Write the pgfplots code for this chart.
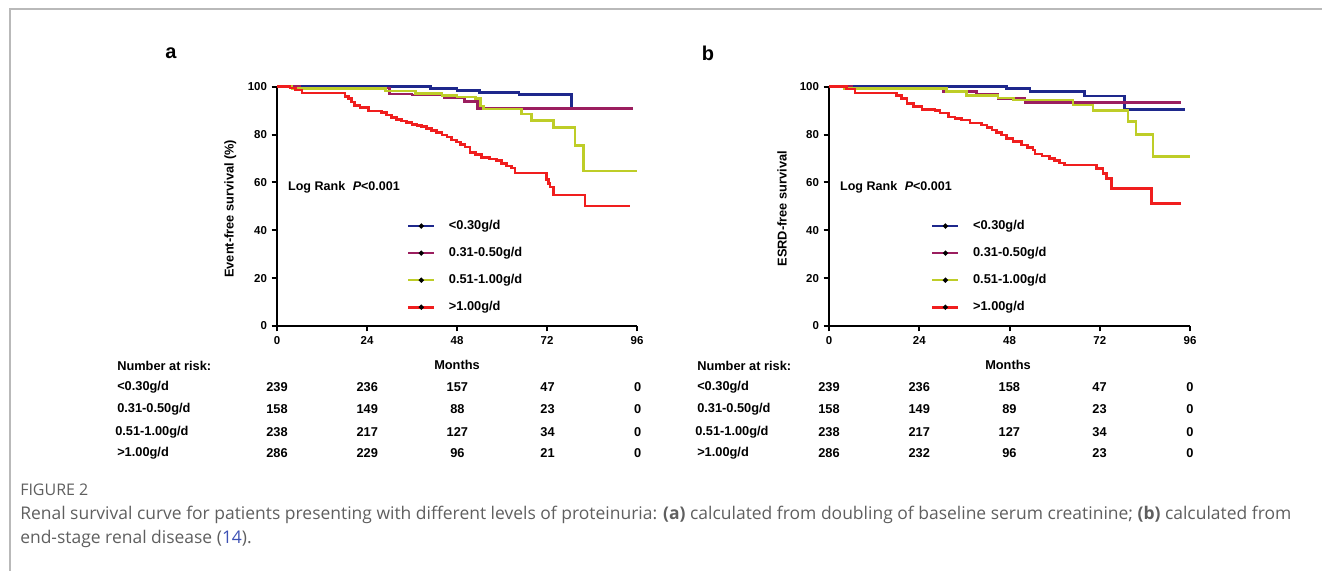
\documentclass[border=0pt]{standalone}
\usepackage{fontspec}
\setmainfont{Liberation Sans}
\newfontfamily\capfont{Open Sans}
\usepackage{pgfplots}
\pgfplotsset{compat=1.18}

\definecolor{kmblue}{RGB}{30,40,140}
\definecolor{kmpurple}{RGB}{155,30,95}
\definecolor{kmyellow}{RGB}{190,205,40}
\definecolor{kmred}{RGB}{240,30,30}
\definecolor{capgray}{RGB}{95,95,95}
\definecolor{reflink}{RGB}{60,80,180}

\pgfplotsset{
  km/.style={
    scale only axis, width=270pt, height=179.5pt,
    xmin=0, xmax=96, ymin=0, ymax=100,
    axis x line*=bottom, axis y line*=left,
    axis line style={-, line width=1.9pt},
    xtick={0,24,48,72,96}, ytick={0,20,...,100},
    tick align=outside, major tick length=4pt,
    tick style={line width=1.5pt, black},
    tick label style={font=\bfseries\fontsize{8.6}{10}\selectfont},
    /pgf/number format/assume math mode=true,
    ylabel style={at={(axis description cs:-0.13,0.49)}, anchor=center,
      font=\bfseries\fontsize{9.6}{11}\selectfont},
    clip=false,
    legend cell align=left,
    legend style={draw=none, fill=none, inner sep=0pt, row sep=9.3pt,
      font=\bfseries\fontsize{9.6}{11}\selectfont,
      nodes={inner sep=1pt, text height=7pt, text depth=2pt}},
    legend image code/.code={
      \path[draw=none, fill=none] (0pt,0pt) -- (29.5pt,0pt);
      \draw[#1] (0pt,0pt) -- (19.5pt,0pt);
      \fill[black] (9.75pt,0pt) circle (0.75pt);
    },
  },
  km line/.style={const plot, line width=1.9pt, #1},
}

% one row of the number-at-risk table: label x, first column x, y, label, five counts
\newcommand{\riskrow}[9]{%
  \node[anchor=west, inner sep=0pt] at (#1,#3) {#4};
  \foreach \v [count=\i from 0] in {#5,#6,#7,#8,#9} {\node at (#2+\i*90.2,#3) {\v};}
}

\begin{document}
\begin{tikzpicture}[x=0.75pt, y=0.75pt]
\path[use as bounding box] (0,0) rectangle (1322,571);
\draw[gray!55, line width=1pt] (10,0) -- (10,562) -- (1322,562);
\coordinate (pa) at (277,245);
\coordinate (pb) at (829,245);

% ---------- panel a ----------
\begin{axis}[km, at={(pa)}, anchor=south west,
  ylabel={Event-free survival (\%)},
  legend style={at={(axis cs:34.6,24.8)}, anchor=west}]
\addplot[km line=kmblue] coordinates {
  (0,100) (41,99.2) (48,98.4) (54,97.6) (64.5,96.8) (78.6,90.8) (95,90.8)};
\addplot[km line=kmpurple] coordinates {
  (0,100) (6,99.4) (30,97.0) (36,96.5) (44.5,95.2) (50,93.8) (53.5,90.8) (95,90.8)};
\addplot[km line=kmyellow] coordinates {
  (0,100) (4,99.2) (29,98.2) (37,97.2) (44,96.2) (48,95.6) (53,95.0) (54.2,92.0)
  (55,90.6) (65.2,88.6) (67.9,85.8) (73.7,83.0) (79.5,75.4) (81.7,64.8) (96,64.8)};
\addplot[km line=kmred] coordinates {
  (0,100) (3.5,99.4) (5,98.6) (6.7,97.3) (18.1,96.0) (19.0,95.0) (19.8,93.6)
  (20.6,92.2) (22.1,91.4) (24.4,89.8) (27.8,89.3) (29.2,88.2) (30.5,87.2)
  (31.9,86.3) (33.2,85.6) (34.6,85.0) (36.0,84.3) (37.3,83.7) (38.6,83.3)
  (39.9,82.5) (41.2,81.6) (42.6,80.8) (44.0,79.8) (45.3,78.9) (46.6,77.8)
  (47.9,76.9) (49.0,75.8) (50.1,74.7) (51.5,72.6) (53.0,71.6) (54.6,70.5)
  (56.6,69.8) (58.6,69.1) (59.9,67.8) (61.2,66.9) (62.6,66.0) (63.5,63.9)
  (71.9,61.2) (72.4,59.5) (72.8,58.0) (73.7,54.8) (82.1,50.1) (94.1,50.1)};
\legend{<0.30g/d, 0.31-0.50g/d, 0.51-1.00g/d, >1.00g/d}
\node[anchor=west, inner sep=0pt, font=\bfseries\fontsize{9.4}{11}\selectfont]
  at (axis cs:2.9,58) {Log Rank\hspace{0.6em}{\itshape P}<0.001};
\end{axis}

% ---------- panel b ----------
\begin{axis}[km, at={(pb)}, anchor=south west, width=270.75pt,
  ylabel={ESRD-free survival},
  legend style={at={(axis cs:27.1,24.8)}, anchor=west}]
\addplot[km line=kmblue] coordinates {
  (0,100) (47.2,99.2) (53.4,97.9) (68,96.1) (78.6,90.4) (94.6,90.4)};
\addplot[km line=kmpurple] coordinates {
  (0,100) (6,99.5) (30.3,98.0) (39.2,96.8) (45,95.1) (52.1,93.3) (93.7,93.3)};
\addplot[km line=kmyellow] coordinates {
  (0,100) (4,99.2) (31.2,97.9) (36.5,96.3) (45,95.2) (49,94.4) (64.9,92.3)
  (70.2,90.0) (79.5,85.4) (81.7,80.0) (86.2,70.8) (96,70.8)};
\addplot[km line=kmred] coordinates {
  (0,100) (4.6,99.0) (6.9,97.4) (18.0,96.2) (19.3,95.1) (20.7,93.0) (22.4,91.6)
  (24.7,90.4) (28.2,90.0) (29.5,88.9) (31.8,87.4) (33.5,86.6) (35.3,86.0)
  (37.5,84.9) (40.6,84.0) (42.0,83.0) (43.3,81.9) (44.6,80.8) (45.9,79.8)
  (47.2,78.4) (48.9,77.0) (51.2,75.6) (52.8,74.5) (54.3,73.5) (54.8,71.9)
  (56.7,71.0) (58.7,70.0) (60.0,69.1) (61.3,68.2) (62.6,67.2) (71.1,65.9)
  (72.9,63.8) (73.8,61.7) (75.1,57.5) (85.7,51.2) (93.7,51.2)};
\legend{<0.30g/d, 0.31-0.50g/d, 0.51-1.00g/d, >1.00g/d}
\node[anchor=west, inner sep=0pt, font=\bfseries\fontsize{9.4}{11}\selectfont]
  at (axis cs:2.9,58) {Log Rank\hspace{0.6em}{\itshape P}<0.001};
\end{axis}

% panel letters
\node[font=\bfseries\fontsize{15}{17}\selectfont] at (171,518) {a};
\node[font=\bfseries\fontsize{15}{17}\selectfont] at (708,518) {b};

% number at risk tables
\begin{scope}[font=\bfseries\fontsize{9.6}{11}\selectfont]
  \node[anchor=west, inner sep=0pt] at (117,205) {Number at risk:};
  \node at (457,206) {Months};
  \riskrow{117}{277}{184}{<0.30g/d}{239}{236}{157}{47}{0}
  \riskrow{117}{277}{162}{0.31-0.50g/d}{158}{149}{88}{23}{0}
  \riskrow{115}{277}{139}{0.51-1.00g/d}{238}{217}{127}{34}{0}
  \riskrow{117}{277}{118}{>1.00g/d}{286}{229}{96}{21}{0}

  \node[anchor=west, inner sep=0pt] at (697,205) {Number at risk:};
  \node at (1008,206) {Months};
  \riskrow{697}{829}{184}{<0.30g/d}{239}{236}{158}{47}{0}
  \riskrow{697}{829}{162}{0.31-0.50g/d}{158}{149}{89}{23}{0}
  \riskrow{695}{829}{139}{0.51-1.00g/d}{238}{217}{127}{34}{0}
  \riskrow{697}{829}{118}{>1.00g/d}{286}{232}{96}{23}{0}
\end{scope}

% caption
\node[anchor=base west, inner sep=0pt, font=\capfont\fontsize{12}{14}\selectfont, text=capgray]
  at (20,75) {FIGURE 2};
\node[anchor=base west, inner sep=0pt, font=\capfont\fontsize{13.1}{15}\selectfont, text=capgray]
  at (20,51) {Renal survival curve for patients presenting with different levels of proteinuria: \textbf{(a)} calculated from doubling of baseline serum creatinine; \textbf{(b)} calculated from};
\node[anchor=base west, inner sep=0pt, font=\capfont\fontsize{13.1}{15}\selectfont, text=capgray]
  at (20,27) {end-stage renal disease (\textcolor{reflink}{14}).};
\end{tikzpicture}
\end{document}
